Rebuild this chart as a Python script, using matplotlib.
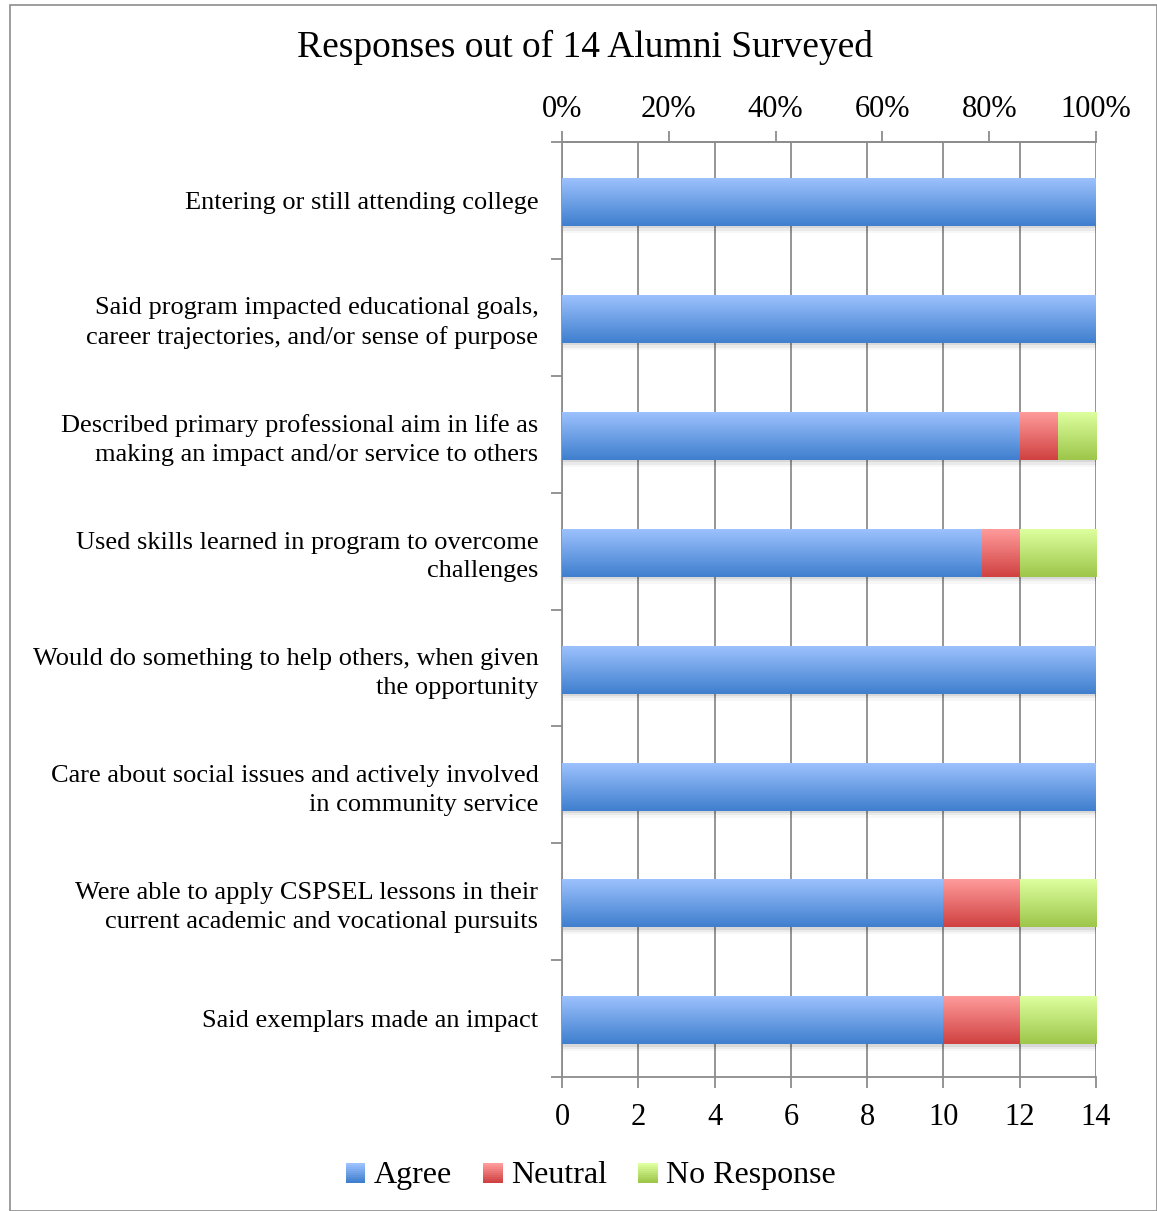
import numpy as np
import matplotlib
matplotlib.use("Agg")
import matplotlib.pyplot as plt
from matplotlib.colors import LinearSegmentedColormap
from matplotlib.patches import Rectangle, Patch
from matplotlib.legend_handler import HandlerPatch

plt.rcParams['font.family'] = ['Liberation Serif', 'DejaVu Serif']

categories = [
    "Entering or still attending college",
    "Said program impacted educational goals,\ncareer trajectories, and/or sense of purpose",
    "Described primary professional aim in life as\nmaking an impact and/or service to others",
    "Used skills learned in program to overcome\nchallenges",
    "Would do something to help others, when given\nthe opportunity",
    "Care about social issues and actively involved\nin community service",
    "Were able to apply CSPSEL lessons in their\ncurrent academic and vocational pursuits",
    "Said exemplars made an impact",
]
agree = [14, 14, 12, 11, 14, 14, 10, 10]
neutral = [0, 0, 1, 1, 0, 0, 2, 2]
no_resp = [0, 0, 1, 2, 0, 0, 2, 2]
series = ["Agree", "Neutral", "No Response"]
grads = [("#3f7fce", "#9cc1fd"), ("#d04141", "#ff9b9b"), ("#9dc64a", "#ddff9e")]

W, H = 1157, 1211
fig = plt.figure(figsize=(W / 100, H / 100), dpi=100)
fig.patches.append(Rectangle((10 / W, 0), 1 - 10 / W, 1 - 5 / H, transform=fig.transFigure,
                             fill=False, edgecolor="#8c8c8c", lw=1.2))

ax = fig.add_axes([562 / W, 1 - 1077 / H, (1096 - 562) / W, (1077 - 142) / H])
n = len(categories)
y = np.arange(n)
ax.set_xlim(0, 14)
ax.set_ylim(n - 0.5, -0.5)

left = np.zeros(n)
for vals, (c0, c1) in zip([agree, neutral, no_resp], grads):
    bars = ax.barh(y + 0.015, vals, left=left, height=0.41, color=c1, lw=0, zorder=3)
    cmap = LinearSegmentedColormap.from_list("g", [c0, c1])
    for b in bars:
        if b.get_width() <= 0:
            continue
        x0, y0 = b.get_x(), b.get_y()
        w, h = b.get_width(), b.get_height()
        # soft shadow under the bar
        for k, a in enumerate([0.07, 0.05, 0.03]):
            ax.add_patch(Rectangle((x0 + 0.02, y0 + 0.02 * (k + 1)), w, h, color="#000000",
                                   alpha=a, lw=0, zorder=2))
        im = ax.imshow(np.linspace(1, 0, 64).reshape(-1, 1), cmap=cmap, aspect="auto",
                       extent=(x0, x0 + w, y0 + h, y0), origin="upper", zorder=4,
                       interpolation="bicubic", vmin=0, vmax=1)
        im.set_clip_path(b)
    left += np.array(vals)

ax.set_xlim(0, 14)
ax.set_ylim(n - 0.5, -0.5)

ax.set_xticks(np.arange(0, 15, 2))
ax.grid(axis="x", color="#8c8c8c", lw=1.3, zorder=1)
ax.set_axisbelow(True)
ax.set_yticks(np.arange(-0.5, n, 1))
ax.set_yticklabels([])
ax.set_yticks(y, minor=True)
ax.set_yticklabels(categories, minor=True, fontsize=19, ha="right", linespacing=1.38)
ax.tick_params(axis="y", which="minor", length=0, pad=17)
ax.tick_params(axis="y", which="major", length=8, color="#8c8c8c", width=1.3)
ax.tick_params(axis="x", length=8, color="#8c8c8c", width=1.3, labelsize=22, pad=11)
ax.spines["right"].set_visible(False)
for s in ["left", "bottom", "top"]:
    ax.spines[s].set_color("#8c8c8c")
    ax.spines[s].set_linewidth(1.3)

ax2 = ax.twiny()
ax2.set_xlim(0, 1)
ax2.set_xticks(np.arange(0, 1.01, 0.2))
ax2.set_xticklabels([f"{int(round(v * 100))}%" for v in np.arange(0, 1.01, 0.2)])
ax2.tick_params(axis="x", length=8, color="#8c8c8c", width=1.3, labelsize=22, pad=5)
for s in ["left", "right", "bottom"]:
    ax2.spines[s].set_visible(False)
ax2.spines["top"].set_color("#8c8c8c")
ax2.spines["top"].set_linewidth(1.3)

fig.text(585 / W, 1 - 47 / H, "Responses out of 14 Alumni Surveyed", ha="center", va="center", fontsize=27)


class GradHandler(HandlerPatch):
    def create_artists(self, legend, orig, xd, yd, width, height, fontsize, trans):
        c0, c1 = orig.get_label_colors
        s = 14.0
        x0 = xd + width - s
        yb = yd + (height - s) / 2 - 1
        arts = []
        k = 10
        for i in range(k):
            t = i / (k - 1)
            col = np.array(matplotlib.colors.to_rgb(c0)) * (1 - t) + np.array(matplotlib.colors.to_rgb(c1)) * t
            arts.append(Rectangle((x0, yb + s * i / k), s, s / k + 0.3, color=col, lw=0, transform=trans))
        return arts


handles = []
for name, g in zip(series, grads):
    p = Patch(label=name)
    p.get_label_colors = g
    handles.append(p)
fig.legend(handles=handles, labels=series, loc="center", bbox_to_anchor=(591 / W, 1 - 1175 / H),
           ncol=3, frameon=False, fontsize=23, handler_map={Patch: GradHandler()},
           handlelength=0.6, handletextpad=0.25, columnspacing=1.0)

fig.savefig("out.png", dpi=100)
